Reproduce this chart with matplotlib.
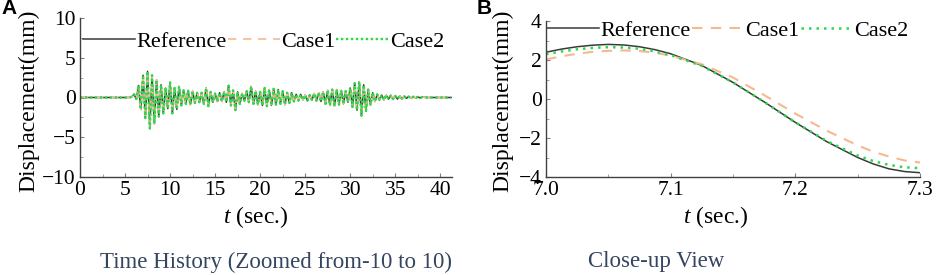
import matplotlib
matplotlib.use("Agg")
import matplotlib.pyplot as plt
from matplotlib.ticker import MultipleLocator

plt.rcParams['font.family'] = ['Liberation Serif', 'DejaVu Serif']
plt.rcParams['mathtext.fontset'] = 'custom'
plt.rcParams['mathtext.rm'] = 'Liberation Serif'
plt.rcParams['mathtext.it'] = 'Liberation Serif:italic'

# ---------------- Panel A data: time history (extrema) ----------------
time_A = [0.0, 5.5, 5.75,
          6.0, 6.25, 6.5, 6.75, 7.0, 7.25, 7.5, 7.75, 8.0, 8.25, 8.5, 8.75,
          9.0, 9.25, 9.5, 9.75, 10.0, 10.25, 10.5, 10.75, 11.0, 11.25, 11.5, 11.75,
          12.0, 12.25, 12.5, 12.75, 13.0, 13.25, 13.5, 13.75, 14.0, 14.25, 14.5, 14.75,
          15.0, 15.25, 15.5, 15.75, 16.0, 16.25, 16.5, 16.75, 17.0, 17.25, 17.5, 17.75,
          18.0, 18.25, 18.5, 18.75, 19.0, 19.25, 19.5, 19.75, 20.0, 20.25, 20.5, 20.75,
          21.0, 21.25, 21.5, 21.75, 22.0, 22.25, 22.5, 22.75, 23.0, 23.25, 23.5, 23.75,
          24.0, 24.25, 24.5, 24.75, 25.0, 25.25, 25.5, 25.75, 26.0, 26.25, 26.5, 26.75,
          27.0, 27.25, 27.5, 27.75, 28.0, 28.25, 28.5, 28.75, 29.0, 29.25, 29.5, 29.75,
          30.0, 30.25, 30.5, 30.75, 31.0, 31.25, 31.5, 31.75, 32.0, 32.25, 32.5, 32.75,
          33.0, 33.25, 33.5, 33.75, 34.0, 34.25, 34.5, 34.75, 35.0, 35.25, 35.5, 35.75,
          36.0, 36.25, 36.5, 36.75, 37.0, 37.25, 37.5, 37.75, 38.0, 38.5, 41.2]
ref_A = [0.0, 0.0, 0.1,
         0.4, -0.2, 1.5, -1.5, 2.8, -2.6, 3.3, -3.9, 2.8, -3.3, 2.2, -2.4,
         1.6, -2.0, 1.2, -1.4, 1.9, -2.0, 1.2, -1.5, 1.4, -1.0, 0.9, -0.8,
         0.9, -0.9, 0.8, -0.7, 0.6, -0.6, 0.6, -0.8, 1.2, -1.1, 0.7, -0.6,
         0.5, -0.5, 0.6, -0.5, 0.7, -0.6, 1.5, -1.0, 0.9, -1.6, 0.7, -0.8,
         0.5, -0.4, 0.8, -0.6, 1.4, -0.8, 0.8, -0.9, 0.7, -1.0, 1.2, -1.1,
         1.0, -1.0, 1.1, -0.9, 1.0, -0.8, 0.8, -0.9, 0.6, -0.7, 0.6, -0.5,
         0.4, -0.4, 0.4, -0.3, 0.3, -0.4, 0.3, -0.3, 0.5, -0.4, 0.6, -0.5,
         0.7, -0.8, 0.9, -1.0, 1.0, -1.1, 1.0, -0.9, 0.9, -0.8, 0.8, -0.6,
         1.2, -1.2, 1.8, -1.6, 2.0, -2.3, 1.6, -1.7, 1.0, -0.9, 0.6, -0.5,
         0.4, -0.3, 0.3, -0.3, 0.3, -0.2, 0.25, -0.2, 0.2, -0.2, 0.2, -0.15,
         0.15, -0.1, 0.12, -0.1, 0.1, -0.08, 0.08, -0.05, 0.05, 0.0, 0.0]
# at this scale the two cases are indistinguishable from the reference
case1_A = ref_A
case2_A = ref_A

# ---------------- Panel B data: close-up ----------------
time_B = [7.000, 7.0125, 7.025, 7.0375, 7.050, 7.0625, 7.075, 7.0875, 7.100, 7.125, 7.150,
          7.175, 7.200, 7.225, 7.250, 7.2625, 7.275, 7.2875, 7.300]
ref_B = [2.40, 2.56, 2.68, 2.76, 2.80, 2.77, 2.68, 2.53, 2.32, 1.72, 0.85,
         -0.15, -1.20, -2.18, -3.00, -3.33, -3.58, -3.72, -3.78]
case1_B = [2.03, 2.19, 2.32, 2.42, 2.47, 2.49, 2.46, 2.37, 2.22, 1.78, 1.10,
           0.20, -0.75, -1.62, -2.38, -2.70, -2.95, -3.15, -3.26]
case2_B = [2.30, 2.44, 2.55, 2.62, 2.66, 2.64, 2.58, 2.44, 2.25, 1.70, 0.85,
           -0.15, -1.20, -2.15, -2.90, -3.18, -3.38, -3.50, -3.55]

labels = ["Reference", "Case1", "Case2"]
xticks_A = [0, 5, 10, 15, 20, 25, 30, 35, 40]
yticks_A = [-10, -5, 0, 5, 10]
xticks_B = [7.0, 7.1, 7.2, 7.3]
yticks_B = [-4, -2, 0, 2, 4]

c_ref = '#3a3a3a'
c_c1 = '#f5b98f'
c_c2 = '#2ed84a'

W, H = 941, 275
fig = plt.figure(figsize=(W / 100, H / 100), dpi=100)

def px_axes(l, t, r, b):
    return fig.add_axes([l / W, 1 - b / H, (r - l) / W, (b - t) / H])

axA = px_axes(80, 18, 452, 177)
axB = px_axes(546, 21, 920, 177)

def style(ax):
    for s in ['top', 'right']:
        ax.spines[s].set_visible(False)
    for s in ['left', 'bottom']:
        ax.spines[s].set_color('#404040')
        ax.spines[s].set_linewidth(1.0)
    ax.tick_params(which='major', direction='in', length=3, width=0.8, color='#808080',
                   labelsize=15.5, pad=3, labelcolor='black')
    ax.tick_params(which='minor', direction='in', length=2, width=0.6, color='#909090')

# Panel A
axA.plot(time_A, ref_A, color=c_ref, lw=1.1, label=labels[0])
axA.plot(time_A, case1_A, color=c_c1, lw=1.2, ls=(0, (5, 4)), label=labels[1])
axA.plot(time_A, case2_A, color=c_c2, lw=1.7, ls=(0, (1, 1.1)), label=labels[2])
axA.set_xlim(0, 41.3)
axA.set_ylim(-10, 10)
axA.set_xticks(xticks_A)
axA.set_yticks(yticks_A)
axA.xaxis.set_minor_locator(MultipleLocator(2.5))
axA.yaxis.set_minor_locator(MultipleLocator(2.5))
style(axA)

# Panel B
axB.plot(time_B, ref_B, color=c_ref, lw=1.1, label=labels[0])
axB.plot(time_B, case1_B, color=c_c1, lw=1.5, ls=(0, (5, 4)), label=labels[1])
axB.plot(time_B, case2_B, color=c_c2, lw=1.8, ls=(0, (1, 2.0)), label=labels[2])
axB.set_xlim(7.0, 7.3)
axB.set_ylim(-4, 4)
axB.set_xticks(xticks_B)
axB.set_xticklabels([f"{v:.1f}" for v in xticks_B])
axB.set_yticks(yticks_B)
axB.xaxis.set_minor_locator(MultipleLocator(0.05))
axB.yaxis.set_minor_locator(MultipleLocator(1))
style(axB)

for ax, anchor in [(axA, (0.008, 0.85)), (axB, (0.003, 0.94))]:
    ax.legend(loc='center left', bbox_to_anchor=anchor, ncol=3, frameon=False,
              fontsize=16, handlelength=2.35, handletextpad=0.05, columnspacing=0.05,
              borderpad=0, borderaxespad=0)

# axis labels
fig.text(29 / W, 1 - 101 / H, "Displacement(mm)", rotation=90, ha='center', va='center', fontsize=17)
fig.text(503 / W, 1 - 101 / H, "Displacement(mm)", rotation=90, ha='center', va='center', fontsize=17)
fig.text(256 / W, 1 - 217 / H, "$t$ (sec.)", ha='center', va='center', fontsize=17)
fig.text(716 / W, 1 - 217 / H, "$t$ (sec.)", ha='center', va='center', fontsize=17)

# captions
fig.text(276 / W, 1 - 262 / H, "Time History (Zoomed from-10 to 10)", ha='center', va='center',
         fontsize=16.5, color='#34455f')
fig.text(656 / W, 1 - 262 / H, "Close-up View", ha='center', va='center',
         fontsize=16.5, color='#34455f')

# panel letters
fig.text(1 / W, 1 - 9 / H, "A", ha='left', va='center', fontsize=15, fontweight='bold',
         family=['Liberation Sans', 'DejaVu Sans'])
fig.text(477 / W, 1 - 9 / H, "B", ha='left', va='center', fontsize=15, fontweight='bold',
         family=['Liberation Sans', 'DejaVu Sans'])

fig.savefig("out.png", dpi=100)
